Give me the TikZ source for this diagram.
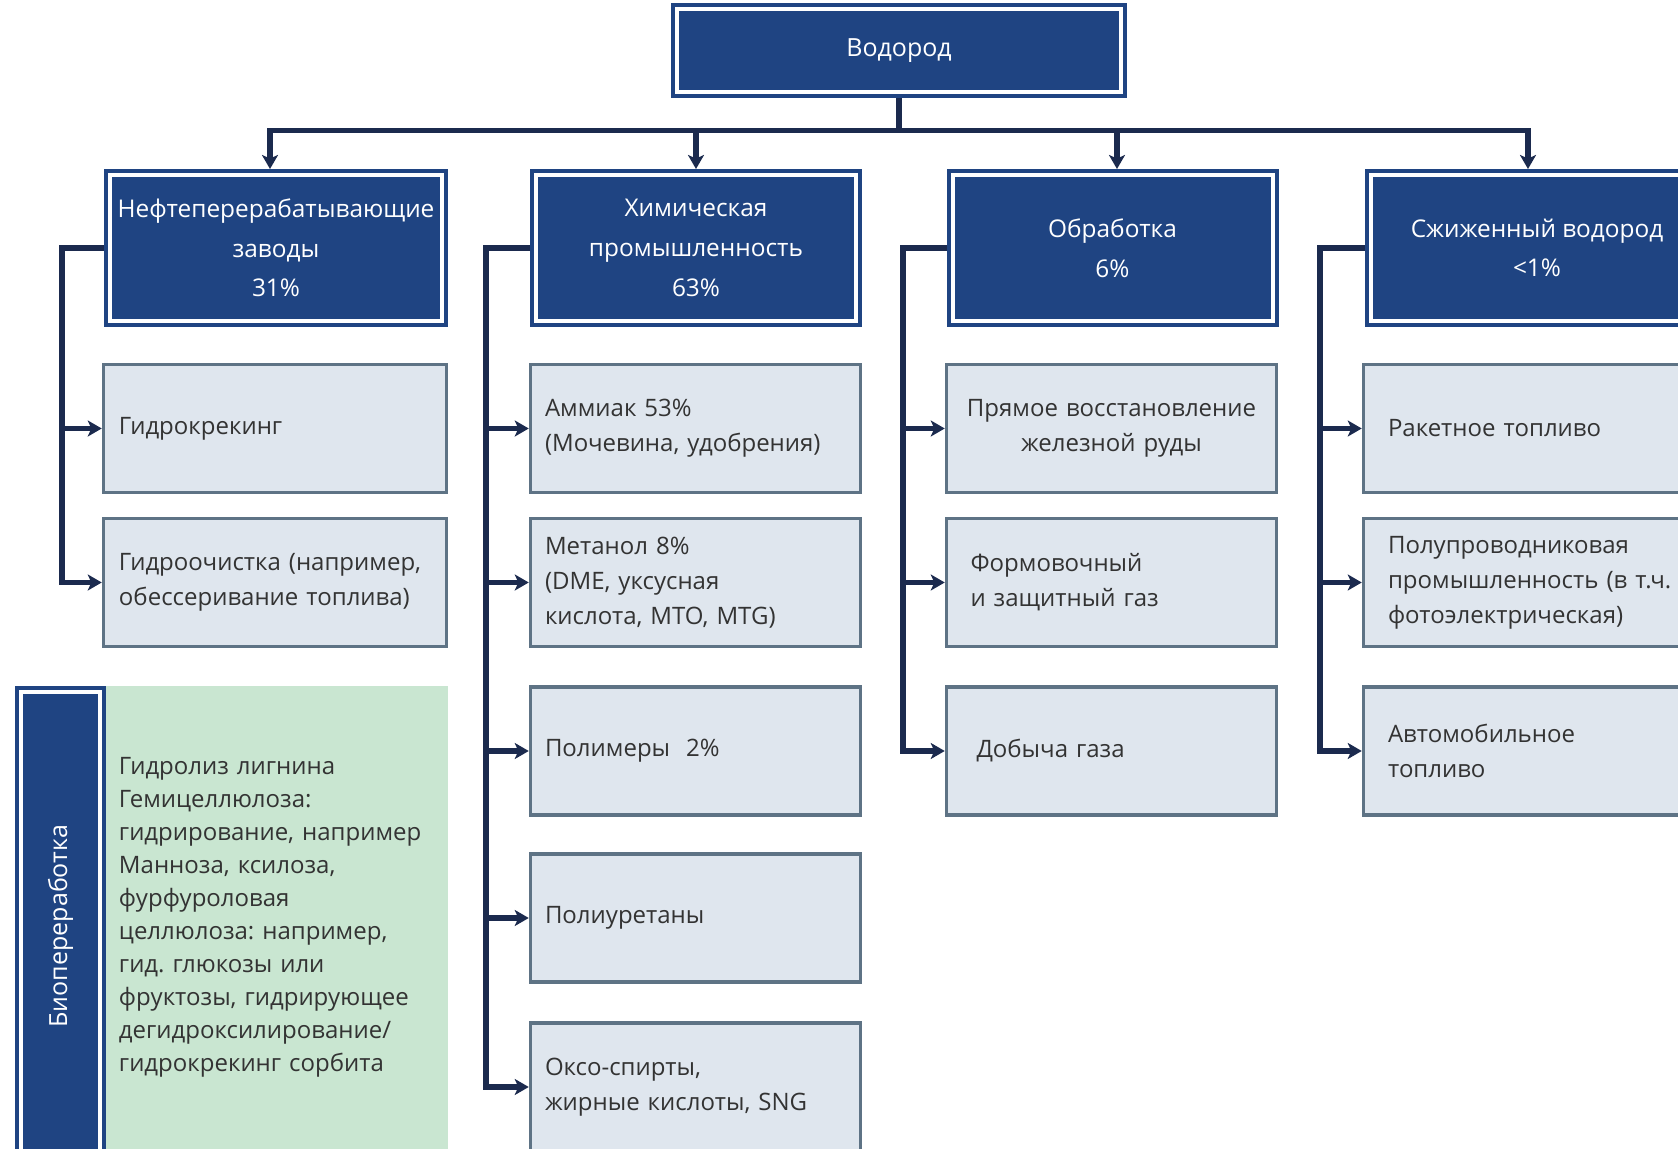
\documentclass[tikz,border=0pt]{standalone}
\usepackage{fontspec}
\setmainfont{Open Sans}
\frenchspacing
\usetikzlibrary{arrows.meta}
\definecolor{hblue}{HTML}{1F4482}
\definecolor{navy}{HTML}{1B2A4E}
\definecolor{lfill}{HTML}{DFE6EE}
\definecolor{lborder}{HTML}{5E7385}
\definecolor{bgreen}{HTML}{C9E6D1}
\definecolor{tgray}{HTML}{333333}
\tikzset{
  dbox/.style={fill=hblue, draw=hblue, line width=2pt, double=white, double distance=2pt,
    text=white, align=center, inner sep=0pt, outer sep=3pt,
    font=\fontsize{12.2}{19.8}\selectfont},
  lbox/.style={fill=lfill, draw=lborder, line width=1.75pt, text=tgray, align=left,
    minimum height=64pt, inner ysep=0pt, font=\fontsize{12}{17.5}\selectfont},
  gbox/.style={fill=bgreen, text=tgray, align=left, inner ysep=0pt,
    font=\fontsize{12}{16.5}\selectfont},
  conn/.style={draw=navy, line width=2.9pt},
  arr/.style={conn, -{Stealth[length=7pt,width=8pt,inset=1.8pt]}},
}
\begin{document}
\begin{tikzpicture}[x=0.5pt,y=-0.5pt]
\useasboundingbox (0,0) rectangle (1678,1149);
\clip (0,0) rectangle (1678,1149);
\fill[white] (0,0) rectangle (1678,1149);

% top
\node[dbox, minimum width=222pt, minimum height=41.5pt, font=\fontsize{12.5}{15}\selectfont] (top) at (899,50.5) {Водород};

% level 1
\node[dbox, minimum width=166pt, minimum height=73pt] (b1) at (276,248) {Нефтеперерабатывающие\\заводы\\31\%};
\node[dbox, minimum width=160pt, minimum height=73pt] (b2) at (696,248) {Химическая\\промышленность\\63\%};
\node[dbox, minimum width=160pt, minimum height=73pt] (b3) at (1112.5,248) {Обработка\\6\%};
\node[dbox, minimum width=166pt, minimum height=73pt] (b4) at (1537,248) {Сжиженный водород\\<1\%};

% column 1
\node[lbox, text width=156pt, inner xsep=7.75pt] (c11) at (275,428.5) {Гидрокрекинг};
\node[lbox, text width=156pt, inner xsep=7.75pt] (c12) at (275,582.5) {Гидроочистка (например,\\обессеривание топлива)};

% column 2
\node[lbox, text width=150.5pt, inner xsep=7.25pt] (c21) at (695.5,428.5) {Аммиак 53\%\\(Мочевина, удобрения)};
\node[lbox, text width=150.5pt, inner xsep=7.25pt] (c22) at (695.5,582.5) {Метанол 8\%\\(DME, уксусная\\кислота, MTO, MTG)};
\node[lbox, text width=150.5pt, inner xsep=7.25pt] (c23) at (695.5,751) {Полимеры\ \ 2\%};
\node[lbox, text width=150.5pt, inner xsep=7.25pt] (c24) at (695.5,918) {Полиуретаны};
\node[lbox, text width=150.5pt, inner xsep=7.25pt] (c25) at (695.5,1087) {Оксо-спирты,\\жирные кислоты, SNG};

% column 3
\node[lbox, align=center, text width=151pt, inner xsep=7pt] (c31) at (1111.5,428.5) {Прямое восстановление\\железной руды};
\node[lbox, text width=141pt, inner xsep=12pt] (c32) at (1111.5,582.5) {Формовочный\\и защитный газ};
\node[lbox, text width=135pt, inner xsep=15pt] (c33) at (1111.5,751) {Добыча газа};

% column 4
\node[lbox, text width=165.5pt, inner xsep=12.25pt] (c41) at (1553.5,428.5) {Ракетное топливо};
\node[lbox, text width=165.5pt, inner xsep=12.25pt] (c42) at (1553.5,582.5) {Полупроводниковая\\промышленность (в т.ч.\\фотоэлектрическая)};
\node[lbox, text width=165.5pt, inner xsep=12.25pt] (c43) at (1553.5,751) {Автомобильное\\топливо};

% bio
\node[gbox, minimum height=231.5pt, text width=158pt, inner xsep=6.5pt] (bioT) at (277,917.5)
  {Гидролиз лигнина\\Гемицеллюлоза:\\гидрирование, например\\Манноза, ксилоза,\\фурфуроловая\\целлюлоза: например,\\гид. глюкозы или\\фруктозы, гидрирующее\\дегидроксилирование/\\гидрокрекинг сорбита};
\node[dbox, rotate=90, minimum width=234pt, minimum height=39.5pt, font=\fontsize{12.5}{15}\selectfont] (bio) at (60.5,926) {Биопереработка};

% connectors top
\coordinate (barY) at (0,130.5);
\coordinate (a1) at ([xshift=-3pt]b1.north);
\coordinate (a2) at (b2.north);
\coordinate (a3) at ([xshift=2.25pt]b3.north);
\coordinate (a4) at ([xshift=-4.5pt]b4.north);
\draw[conn] (top.south) -- (top.south |- barY);
\draw[conn, line cap=rect] (a1 |- barY) -- (a4 |- barY);
\draw[arr] (a1 |- barY) -- (a1);
\draw[arr] (a2 |- barY) -- (a2);
\draw[arr] (a3 |- barY) -- (a3);
\draw[arr] (a4 |- barY) -- (a4);

% trunks
\coordinate (t1) at (62,0);
\coordinate (t2) at (486,0);
\coordinate (t3) at (903,0);
\coordinate (t4) at (1320,0);

\draw[arr] (b1.west) -| (c12.west -| t1) -- (c12.west);
\draw[arr] (c11.west -| t1) -- (c11.west);

\draw[arr] (b2.west) -| (c25.west -| t2) -- (c25.west);
\foreach \n in {c21,c22,c23,c24} \draw[arr] (\n.west -| t2) -- (\n.west);

\draw[arr] (b3.west) -| (c33.west -| t3) -- (c33.west);
\foreach \n in {c31,c32} \draw[arr] (\n.west -| t3) -- (\n.west);

\draw[arr] (b4.west) -| (c43.west -| t4) -- (c43.west);
\foreach \n in {c41,c42} \draw[arr] (\n.west -| t4) -- (\n.west);
\end{tikzpicture}
\end{document}
